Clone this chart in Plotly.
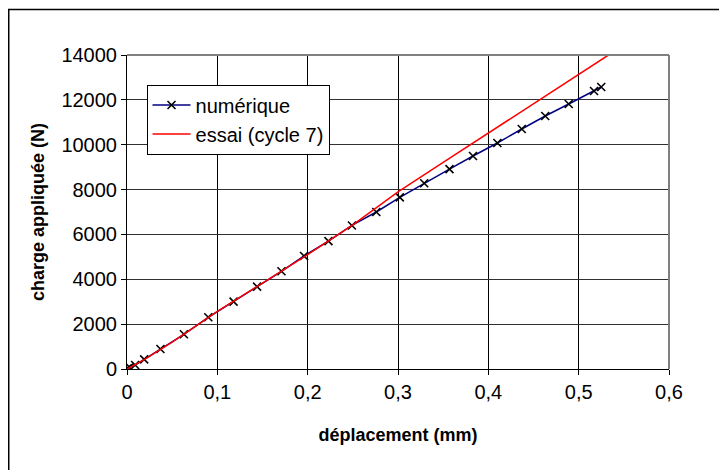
import plotly.graph_objects as go

# courbe numérique (points repérés par des croix)
x_num = [0, 0.001, 0.003, 0.009, 0.019, 0.037, 0.063, 0.090, 0.118, 0.144, 0.171,
         0.196, 0.223, 0.249, 0.276, 0.302, 0.329, 0.357, 0.383, 0.410, 0.437,
         0.463, 0.489, 0.517, 0.525]
y_num = [0, 30, 70, 178, 432, 892, 1547, 2305, 3001, 3670, 4356,
         5038, 5700, 6400, 7000, 7650, 8280, 8910, 9497, 10076, 10701,
         11280, 11815, 12395, 12573]

# essai (cycle 7)
x_essai = [0, 0.02, 0.05, 0.1, 0.15, 0.2, 0.25, 0.3, 0.35, 0.4, 0.45, 0.5, 0.533]
y_essai = [0, 440, 1200, 2570, 3830, 5100, 6430, 7900, 9210, 10520, 11830, 13140, 14000]

x_ticks = [0, 0.1, 0.2, 0.3, 0.4, 0.5, 0.6]
y_ticks = [0, 2000, 4000, 6000, 8000, 10000, 12000, 14000]

font = "Liberation Sans, Arial, sans-serif"

fig = go.Figure()
fig.add_trace(go.Scatter(
    x=x_num, y=y_num, name="numérique", mode="lines+markers", legendgroup="a",
    line=dict(color="#000080", width=1.5),
    marker=dict(symbol="x-thin", size=8, color="black",
                line=dict(color="black", width=1.6)),
))
fig.add_trace(go.Scatter(
    x=x_essai, y=y_essai, name="essai (cycle 7)", mode="lines", legendgroup="b",
    line=dict(color="#ff0000", width=1.5),
))

# la page ajoute 8 px de marge (body), d'où les marges décalées
fig.update_layout(
    width=727, height=470,
    margin=dict(l=119, r=66, t=47, b=109),
    paper_bgcolor="white", plot_bgcolor="white",
    separators=",.",
    font=dict(family=font, size=20, color="black"),
    showlegend=True,
    legend=dict(x=0.036, y=0.906, xanchor="left", yanchor="top",
                bgcolor="white", bordercolor="black", borderwidth=1,
                font=dict(size=20), tracegroupgap=0, itemwidth=38),
    xaxis=dict(range=[0, 0.6], tickvals=x_ticks, showgrid=True,
               gridcolor="black", gridwidth=1, zeroline=False,
               showline=True, linecolor="black", linewidth=1,
               ticks="outside", ticklen=5, tickcolor="black",
               title=dict(text="<b>déplacement (mm)</b>", font=dict(size=18), standoff=26)),
    yaxis=dict(range=[0, 14000], tickvals=y_ticks, tickformat="d", showgrid=True,
               gridcolor="#303030", gridwidth=1, zeroline=False,
               showline=True, linecolor="black", linewidth=1,
               ticks="outside", ticklen=5, tickcolor="black",
               title=dict(text="<b>charge appliquée (N)</b>", font=dict(size=18), standoff=12)),
)

# bordure grise haut/droite de la zone de tracé
fig.add_shape(type="line", xref="paper", yref="paper", x0=0, x1=1, y0=1, y1=1,
              line=dict(color="#808080", width=2))
fig.add_shape(type="line", xref="paper", yref="paper", x0=1, x1=1, y0=0, y1=1,
              line=dict(color="#808080", width=2))
# cadre extérieur du graphique
fig.add_shape(type="rect", xref="paper", yref="paper", x0=-0.2182, x1=1.3,
              y0=-0.5, y1=1.1449, line=dict(color="black", width=1.5), layer="below")

fig.write_html("out.html")
